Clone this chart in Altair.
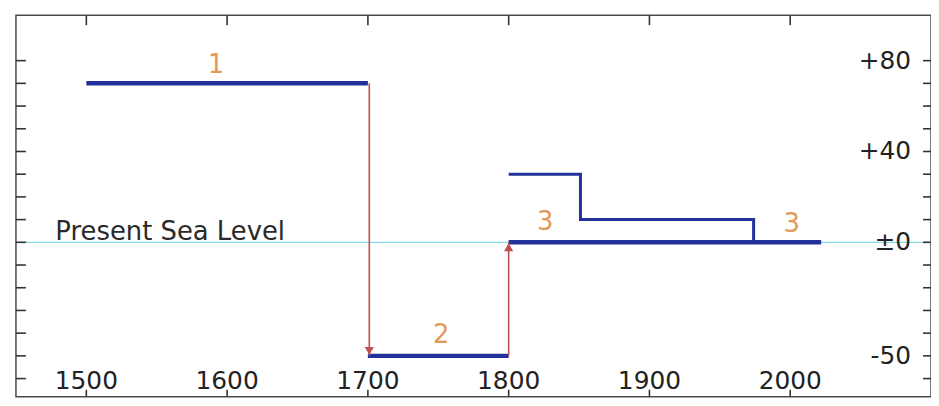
import altair as alt
import pandas as pd

# ---- data ----
seg_start = [1500, 1700, 1800]
seg_end = [1700, 1800, 2022]
seg_level = [70, -50, 0]

thin_years = [1800, 1851, 1851, 1974, 1974]
thin_levels = [30, 30, 10, 10, 0]

arrow_years = [1701, 1800]
arrow_from = [70, -50]
arrow_to = [-50, 0]

phase_labels = ["1", "2", "3", "3"]
phase_years = [1592, 1752, 1826, 2001]
phase_levels = [78, -41, 9, 8]

x_tick_years = [1500, 1600, 1700, 1800, 1900, 2000]
x_tick_labels = ["1500", "1600", "1700", "1800", "1900", "2000"]
y_tick_values = list(range(-60, 81, 10))
y_label_values = [80, 40, 0, -50]
y_label_texts = ["+80", "+40", "±0", "-50"]

sea_text = ["Present Sea Level"]
sea_year = [1478]
sea_level_txt = [4.5]
sea_line_level = [0]

# ---- tables ----
seg_df = pd.DataFrame({"start": seg_start, "end": seg_end, "level": seg_level})
thin_df = pd.DataFrame({"year": thin_years, "level": thin_levels, "order": list(range(len(thin_years)))})
arrow_df = pd.DataFrame({"year": arrow_years, "y0": arrow_from, "y1": arrow_to})
down_df = arrow_df.iloc[[0]]
up_df = arrow_df.iloc[[1]]
phase_df = pd.DataFrame({"t": phase_labels, "year": phase_years, "level": phase_levels})
sea_df = pd.DataFrame({"t": sea_text, "year": sea_year, "level": sea_level_txt})
sea_line_df = pd.DataFrame({"level": sea_line_level})
xt_df = pd.DataFrame({"year": x_tick_years, "label": x_tick_labels})
yt_df = pd.DataFrame({"value": y_tick_values})
yl_df = pd.DataFrame({"value": y_label_values, "label": y_label_texts})

W, H = 921, 384
xs = alt.Scale(domain=[1450, 2100], nice=False, zero=False)
ys = alt.Scale(domain=[-68, 100], nice=False, zero=False)

FONT = "DejaVu Sans"
BLUE = "#22329a"
RED = "#c0504d"
ORANGE = "#e39a58"
TICK = "#333333"
TEXT = "#222222"

X = lambda f: alt.X(f, scale=xs, axis=None)
Y = lambda f: alt.Y(f, scale=ys, axis=None)

sea_rule = alt.Chart(sea_line_df).mark_rule(color="#86dbe3", strokeWidth=1.3).encode(
    y=Y("level:Q"), x=alt.value(0), x2=alt.value(W),
)

segs = alt.Chart(seg_df).mark_rule(color=BLUE, strokeWidth=4.5).encode(
    x=X("start:Q"), x2="end:Q", y=Y("level:Q"),
)

thin = alt.Chart(thin_df).mark_line(color=BLUE, strokeWidth=3, strokeJoin="miter").encode(
    x=X("year:Q"), y=Y("level:Q"), order="order:Q",
)

arrows = alt.Chart(arrow_df).mark_rule(color=RED, strokeWidth=1.6).encode(
    x=X("year:Q"), y=Y("y0:Q"), y2="y1:Q",
)

head_down = alt.Chart(down_df).mark_point(shape="triangle-down", filled=True, color=RED,
                                          size=85, opacity=1, yOffset=-5).encode(
    x=X("year:Q"), y=Y("y1:Q"),
)
head_up = alt.Chart(up_df).mark_point(shape="triangle-up", filled=True, color=RED,
                                      size=85, opacity=1, yOffset=5).encode(
    x=X("year:Q"), y=Y("y1:Q"),
)

phases = alt.Chart(phase_df).mark_text(font=FONT, fontSize=26, color=ORANGE,
                                       baseline="middle", align="center").encode(
    x=X("year:Q"), y=Y("level:Q"), text="t:N",
)

sea_label = alt.Chart(sea_df).mark_text(font=FONT, fontSize=26, color="#2a2a2a",
                                        baseline="middle", align="left").encode(
    x=X("year:Q"), y=Y("level:Q"), text="t:N",
)

# axis furniture (ticks pointing inward, labels inside the frame)
top_ticks = alt.Chart(xt_df).mark_rule(color=TICK, strokeWidth=1.6).encode(
    x=X("year:Q"), y=alt.value(0), y2=alt.value(10))
bottom_ticks = alt.Chart(xt_df).mark_rule(color=TICK, strokeWidth=1.6).encode(
    x=X("year:Q"), y=alt.value(H - 7), y2=alt.value(H))
bottom_labels = alt.Chart(xt_df).mark_text(font=FONT, fontSize=25, color=TEXT,
                                           baseline="middle", align="center").encode(
    x=X("year:Q"), y=alt.value(H - 16), text="label:N")
left_ticks = alt.Chart(yt_df).mark_rule(color=TICK, strokeWidth=1.6).encode(
    y=Y("value:Q"), x=alt.value(0), x2=alt.value(10))
right_ticks = alt.Chart(yt_df).mark_rule(color=TICK, strokeWidth=1.6).encode(
    y=Y("value:Q"), x=alt.value(W - 8), x2=alt.value(W))
right_labels = alt.Chart(yl_df).mark_text(font=FONT, fontSize=25, color=TEXT,
                                          baseline="middle", align="right").encode(
    y=Y("value:Q"), x=alt.value(W - 20), text="label:N")

chart = alt.layer(
    sea_rule, top_ticks, bottom_ticks, left_ticks, right_ticks, bottom_labels, right_labels,
    segs, thin, arrows, head_down, head_up, phases, sea_label
).properties(
    width=W, height=H,
    autosize=alt.AutoSizeParams(type="none"),
    padding={"left": 8, "top": 6, "right": 0, "bottom": 0},
    background="white",
).configure_view(stroke="#4a4a4a", strokeWidth=1.5)

chart.save("out.html", embed_options={"renderer": "svg", "actions": False})
